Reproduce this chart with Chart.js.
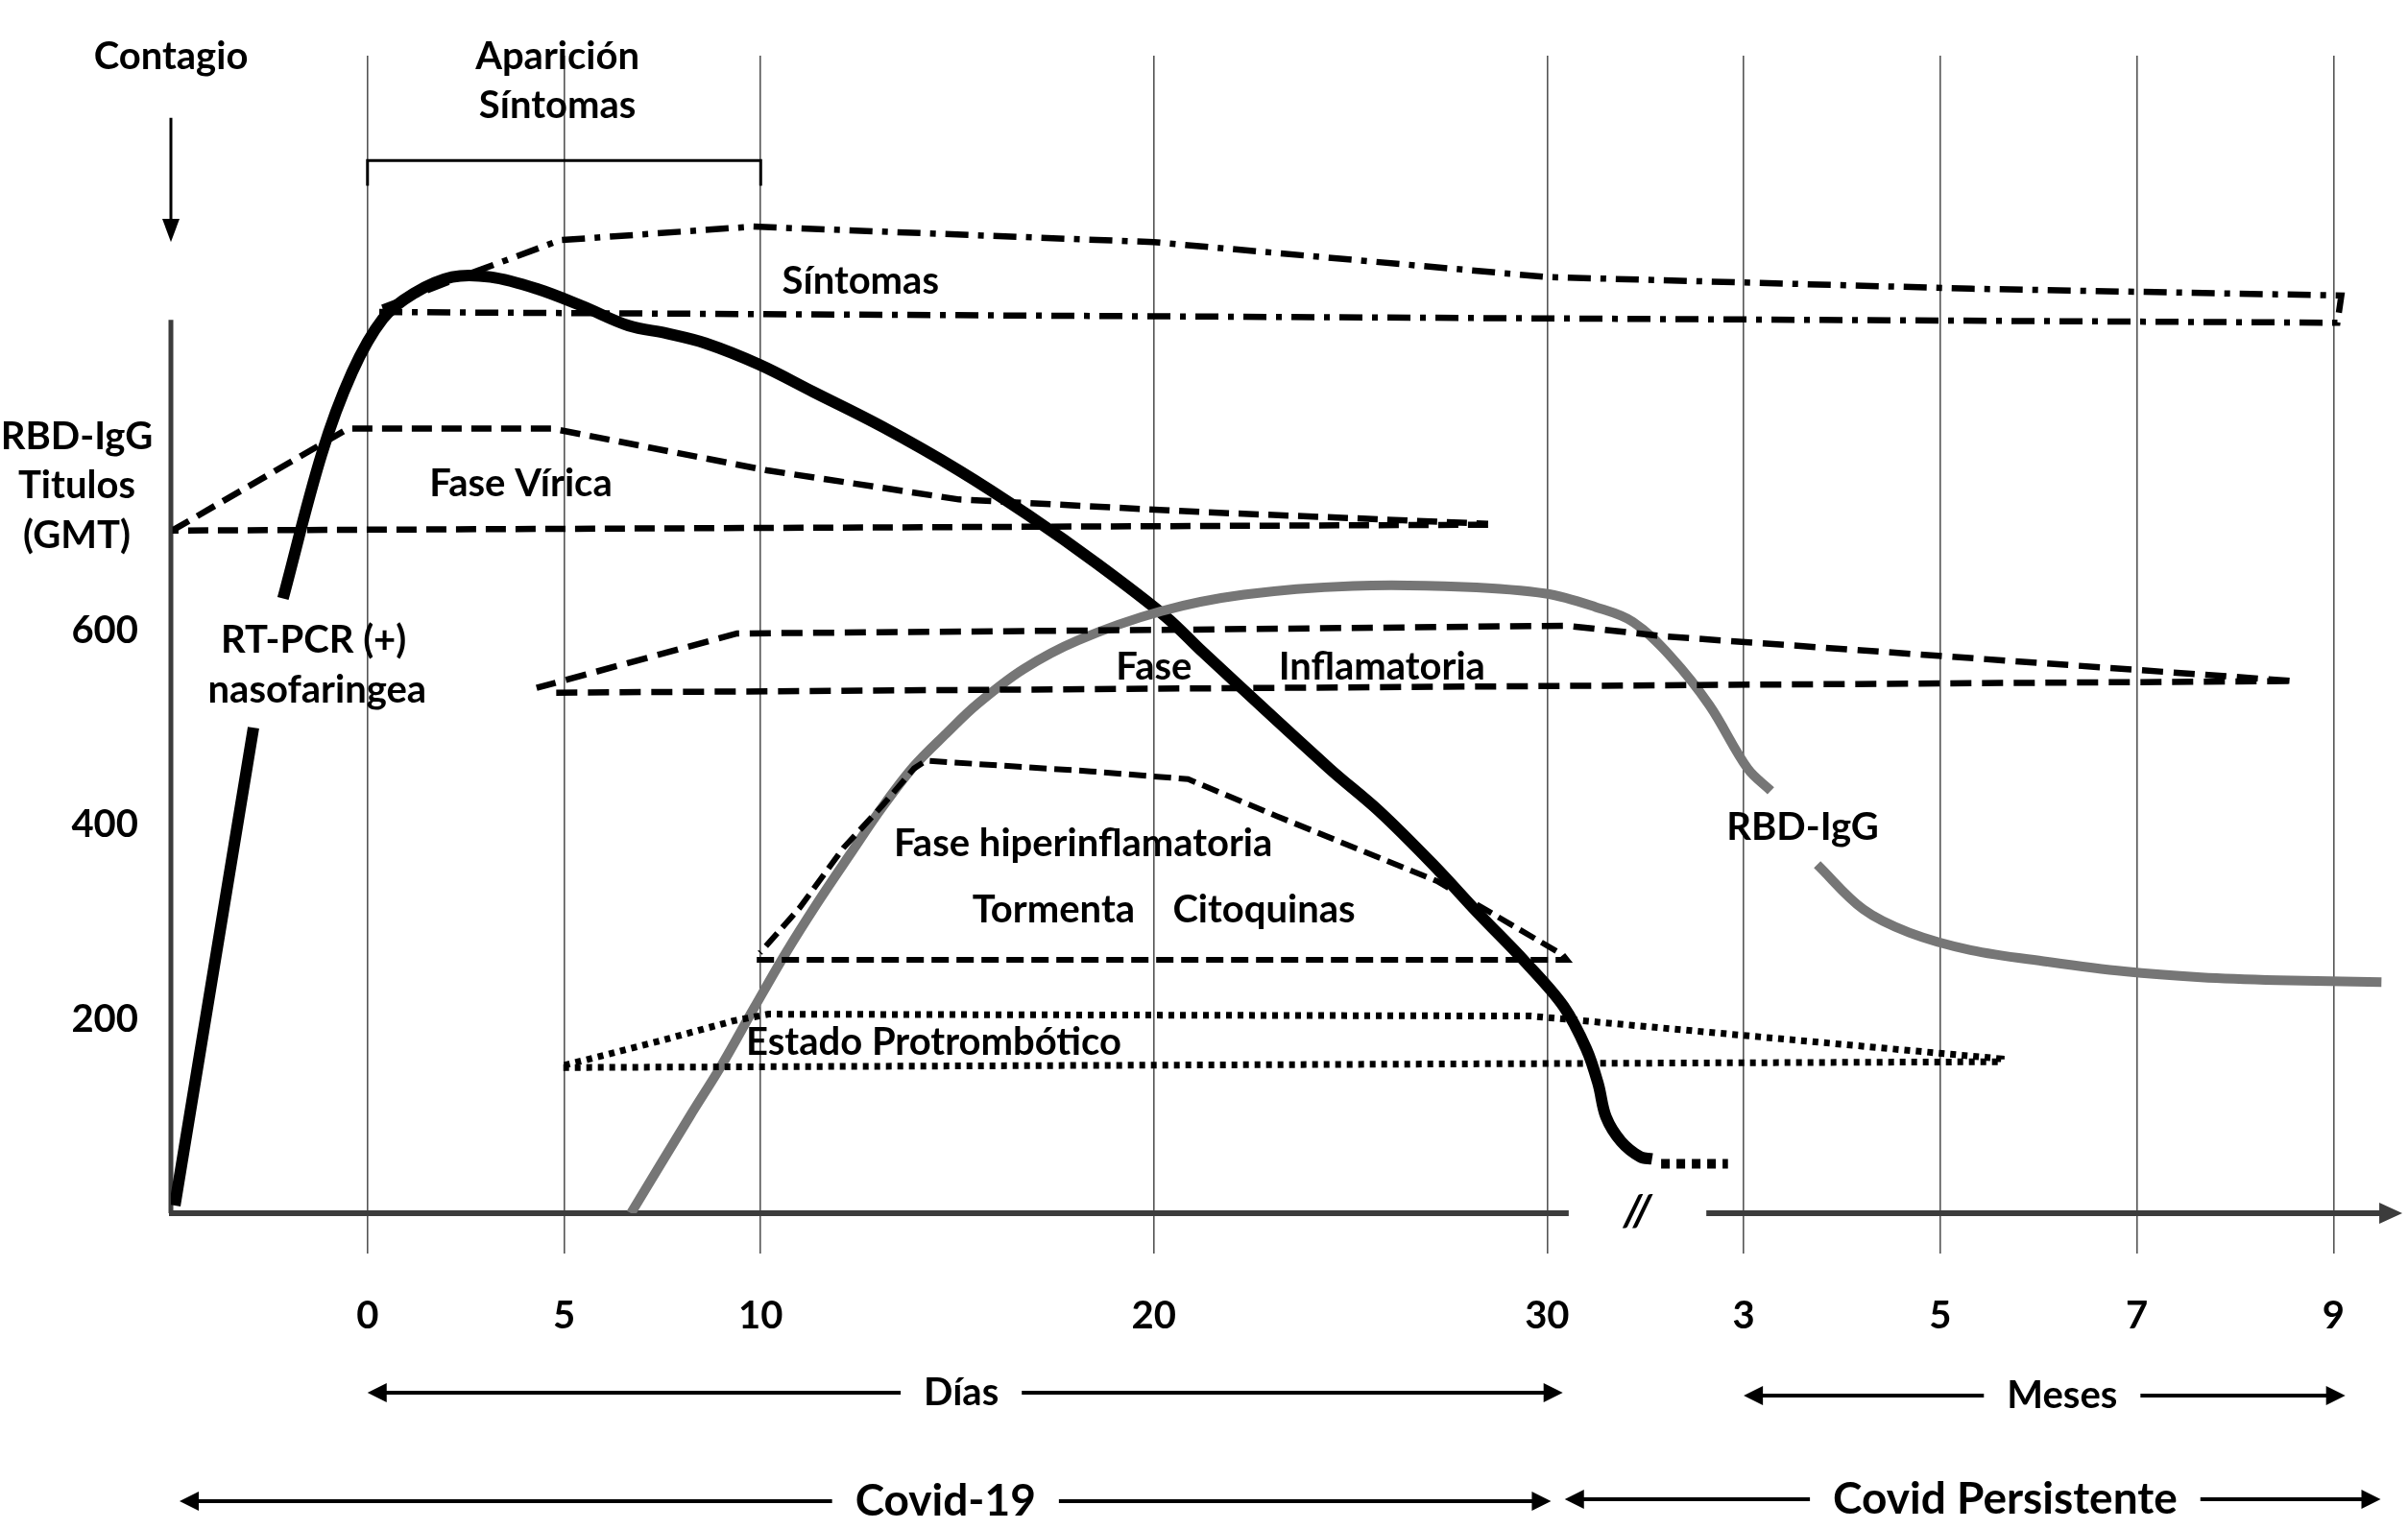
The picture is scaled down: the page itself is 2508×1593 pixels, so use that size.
<!DOCTYPE html>
<html lang="es">
<head>
<meta charset="utf-8">
<title>Covid-19 y Covid persistente</title>
<script src="https://cdn.jsdelivr.net/npm/chart.js@4.4.1/dist/chart.umd.min.js"></script>
<style>
  html, body { margin: 0; padding: 0; background: #fff; }
  #wrap { width: 2508px; height: 1593px; }
</style>
</head>
<body>
<div id="wrap"><canvas id="chart"></canvas></div>
<script>
// x axis: days 0..30, then months after the break (month m sits at 27.5 + 2.5*m)
const xTicks = [0, 5, 10, 20, 30, 35, 40, 45, 50];
const xTickLabels = ['0', '5', '10', '20', '30', '3', '5', '7', '9'];
const yTicks = [200, 400, 600];

// RT-PCR nasofaringea (black), null = gap for the label
const rtpcr = [
  [-4.9, 8], [-2.9, 500], [-2.5, null], [-2.15, 633], [-1.17, 781], [-0.39, 866],
  [0.39, 921], [1.17, 947], [2.15, 964], [3.13, 964], [4.3, 952], [5.47, 934],
  [6.64, 914], [7.62, 906], [8.59, 896], [9.96, 874], [11.33, 846], [13.09, 810],
  [15.04, 765], [16.8, 719], [18.55, 669], [20.31, 614], [21.24, 578], [24.46, 458],
  [25.73, 414], [27.1, 359], [28.27, 308], [29.44, 259], [30.42, 213], [31.0, 169],
  [31.3, 133], [31.5, 99], [31.88, 74], [32.37, 58], [32.67, 56]
];
const rtpcrTail = [[32.9, 51], [34.6, 51]];

// RBD-IgG (grey)
const rbdIgg = [
  [6.7, 0], [8.2, 100], [9.0, 152], [9.84, 212], [10.64, 268], [11.45, 320],
  [12.28, 370], [13.09, 418], [13.89, 460], [14.72, 494], [15.5, 524], [16.67, 560],
  [18.07, 590], [20.19, 620], [22.29, 637], [25.07, 646], [27.88, 645], [29.98, 638],
  [31.25, 624], [32.18, 609], [33.15, 573], [34.13, 523], [35.1, 458], [35.69, 435],
  [36.2, null], [36.87, 359], [38.04, 313], [39.21, 289], [40.77, 271], [42.72, 259],
  [44.68, 249], [46.63, 243], [48.58, 240], [51.22, 238]
];

// phase bands (outline: lower edge, then upper edge back)
const sintomas = [
  [0.3, 928], [50.1, 917], [50.2, 945], [40.8, 952], [30, 964], [20, 1000],
  [9.8, 1016], [4.9, 1002], [2.7, 969], [0.35, 932]
];
const faseVirica = [
  [28.5, 709], [-4.88, 703], [-4.88, 705], [-0.49, 808], [4.69, 808], [10.16, 765],
  [15.04, 735], [21.24, 722], [28.5, 710]
];
const faseInflamatoria = [
  [4.8, 536], [49, 548], [33, 594], [30.5, 605], [21, 601], [9.4, 597], [4.3, 541]
];
const faseHiper = [
  [9.9, 261], [30.5, 261], [30.4, 266], [27.2, 342], [23.12, 409], [20.87, 447],
  [18.4, 455], [14.2, 466], [13.9, 458], [13.1, 420], [12.1, 376], [11.0, 315], [9.98, 268]
];
const protrombotico = [
  [4.98, 150], [41.55, 156], [41.55, 159], [29.6, 203], [10.2, 205], [9.3, 198],
  [7.4, 177], [4.98, 152]
];
const aparicion = [[0, 1058], [0, 1084], [10, 1084], [10, 1058]];

const plotLabels = [
  ['Síntomas', 12.54, 960],
  ['Fase Vírica', 3.9, 751],
  ['RT-PCR (+)', -1.37, 590],
  ['nasofaringea', -1.28, 539],
  ['Fase', 20.0, 562],
  ['Inflamatoria', 25.8, 562],
  ['Fase hiperinflamatoria', 18.2, 380],
  ['Tormenta', 17.45, 312],
  ['Citoquinas', 22.8, 312],
  ['Estado Protrombótico', 14.4, 176],
  ['RBD-IgG', 36.5, 397],
  ['Contagio', -5, 1191],
  ['Aparición', 4.83, 1191],
  ['Síntomas', 4.83, 1141]
];
const yTitle = ['RBD-IgG', 'Titulos', '(GMT)'];
const yTitleValues = [800, 749, 698];

const FONT = 'bold 40px Lato, "Open Sans", sans-serif';
const BIG_FONT = 'bold 46px Lato, "Open Sans", sans-serif';

const pts = arr => arr.map(([x, y]) => ({ x, y }));

function tri(ctx, x, y, dir, len, half) {
  ctx.beginPath();
  ctx.moveTo(x, y);
  ctx.lineTo(x - dir * len, y - half);
  ctx.lineTo(x - dir * len, y + half);
  ctx.closePath();
  ctx.fill();
}

// double headed arrow with a label sitting in a gap of the line
function spanArrow(ctx, x0, x1, xt, y, text, font) {
  ctx.font = font;
  const w = ctx.measureText(text).width;
  const g = 24;
  ctx.strokeStyle = '#000';
  ctx.fillStyle = '#000';
  ctx.lineWidth = 4;
  ctx.beginPath();
  ctx.moveTo(x0 + 10, y);
  ctx.lineTo(xt - w / 2 - g, y);
  ctx.moveTo(xt + w / 2 + g, y);
  ctx.lineTo(x1 - 10, y);
  ctx.stroke();
  tri(ctx, x0, y, -1, 20, 10);
  tri(ctx, x1, y, 1, 20, 10);
  ctx.textAlign = 'center';
  ctx.textBaseline = 'middle';
  ctx.fillText(text, xt, y);
}

const decorations = {
  id: 'decorations',
  beforeDatasetsDraw(chart) {
    const { ctx, scales: { x, y } } = chart;
    ctx.save();
    // y axis line
    ctx.strokeStyle = '#3c3c3c';
    ctx.lineWidth = 5;
    ctx.beginPath();
    ctx.moveTo(x.getPixelForValue(-5), y.getPixelForValue(0));
    ctx.lineTo(x.getPixelForValue(-5), y.getPixelForValue(920));
    ctx.stroke();
    // broken x axis with arrow
    const y0 = y.getPixelForValue(0);
    ctx.lineWidth = 6;
    ctx.beginPath();
    ctx.moveTo(x.getPixelForValue(-5) - 2, y0);
    ctx.lineTo(x.getPixelForValue(30.55), y0);
    ctx.moveTo(x.getPixelForValue(34.05), y0);
    ctx.lineTo(x.getPixelForValue(51.3), y0);
    ctx.stroke();
    ctx.fillStyle = '#3c3c3c';
    tri(ctx, x.getPixelForValue(51.75), y0, 1, 24, 11);
    ctx.restore();
  },
  afterDatasetsDraw(chart) {
    const { ctx, scales: { x, y } } = chart;
    ctx.save();
    ctx.fillStyle = '#000';
    ctx.textAlign = 'center';
    ctx.textBaseline = 'middle';
    ctx.font = FONT;
    plotLabels.forEach(([t, vx, vy]) => {
      ctx.fillText(t, x.getPixelForValue(vx), y.getPixelForValue(vy));
    });
    yTitle.forEach((t, i) => ctx.fillText(t, 80, y.getPixelForValue(yTitleValues[i])));

    // "//" axis break
    ctx.font = 'italic bold 46px Lato, sans-serif';
    ctx.fillText('//', x.getPixelForValue(32.3), y.getPixelForValue(0) - 2);

    // contagio arrow
    const cx = x.getPixelForValue(-5);
    ctx.strokeStyle = '#000';
    ctx.lineWidth = 3;
    ctx.beginPath();
    ctx.moveTo(cx, y.getPixelForValue(1128));
    ctx.lineTo(cx, y.getPixelForValue(1015));
    ctx.stroke();
    ctx.beginPath();
    ctx.moveTo(cx, y.getPixelForValue(1000));
    ctx.lineTo(cx - 9, y.getPixelForValue(1024));
    ctx.lineTo(cx + 9, y.getPixelForValue(1024));
    ctx.closePath();
    ctx.fill();

    // period arrows under the axis
    spanArrow(ctx, x.getPixelForValue(0), x.getPixelForValue(30.4), x.getPixelForValue(15.1), 1451, 'Días', FONT);
    spanArrow(ctx, x.getPixelForValue(35.0), x.getPixelForValue(50.3), x.getPixelForValue(43.1), 1454, 'Meses', FONT);
    spanArrow(ctx, x.getPixelForValue(-4.78), x.getPixelForValue(30.1), x.getPixelForValue(14.7), 1564, 'Covid-19', BIG_FONT);
    spanArrow(ctx, x.getPixelForValue(30.45), x.getPixelForValue(51.2), x.getPixelForValue(41.65), 1562, 'Covid Persistente', BIG_FONT);
    ctx.restore();
  }
};

const band = (label, data, dash, width) => ({
  label, data: pts(data), borderColor: '#000', borderWidth: width,
  borderDash: dash, borderCapStyle: 'butt', tension: 0, pointRadius: 0, fill: false
});

new Chart(document.getElementById('chart'), {
  type: 'line',
  data: {
    datasets: [
      band('Síntomas', sintomas, [24, 10, 6, 10], 6.5),
      band('Fase Vírica', faseVirica, [21, 10], 6.5),
      band('Fase Inflamatoria', faseInflamatoria, [22, 11], 6.5),
      band('Fase hiperinflamatoria', faseHiper, [18, 8], 6),
      band('Estado Protrombótico', protrombotico, [6, 6], 7),
      {
        label: 'Aparición Síntomas', data: pts(aparicion), borderColor: '#000',
        borderWidth: 3, tension: 0, pointRadius: 0
      },
      {
        label: 'RBD-IgG', data: pts(rbdIgg), borderColor: '#767676',
        borderWidth: 10, tension: 0.35, pointRadius: 0, spanGaps: false
      },
      {
        label: 'RT-PCR (+) nasofaringea', data: pts(rtpcr), borderColor: '#000',
        borderWidth: 12, tension: 0.35, pointRadius: 0, spanGaps: false
      },
      {
        label: 'RT-PCR seguimiento', data: pts(rtpcrTail), borderColor: '#000',
        borderWidth: 10, borderDash: [9, 7], borderCapStyle: 'butt', pointRadius: 0
      }
    ]
  },
  options: {
    responsive: true,
    maintainAspectRatio: false,
    animation: false,
    devicePixelRatio: 1,
    layout: { padding: { top: 58, right: 8, left: 0, bottom: 0 } },
    plugins: { legend: { display: false }, tooltip: { enabled: false } },
    scales: {
      x: {
        type: 'linear', min: -5, max: 51.7,
        afterBuildTicks: s => { s.ticks = xTicks.map(v => ({ value: v })); },
        afterFit: s => { s.height = 329; },
        ticks: {
          callback: (v, i) => xTickLabels[i],
          color: '#000', font: { family: 'Lato', size: 40, weight: 'bold' }, padding: 41,
          maxRotation: 0, autoSkip: false
        },
        grid: { color: '#555', lineWidth: 1.6, tickLength: 42 },
        border: { display: false }
      },
      y: {
        min: 0, max: 1192,
        afterBuildTicks: s => { s.ticks = yTicks.map(v => ({ value: v })); },
        afterFit: s => { s.width = 178; },
        ticks: { color: '#000', font: { family: 'Lato', size: 40, weight: 'bold' }, padding: 34 },
        grid: { display: false, drawTicks: false },
        border: { display: false }
      }
    }
  },
  plugins: [decorations]
});
</script>
</body>
</html>
